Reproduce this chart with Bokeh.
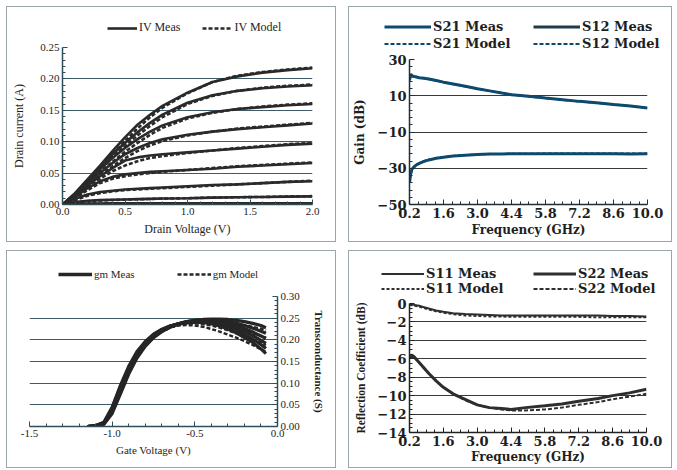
from bokeh.plotting import figure
from bokeh.models import Range1d, FixedTicker, NumeralTickFormatter, Legend, LegendItem, Spacer
from bokeh.layouts import row, column
from bokeh.embed import file_html
from bokeh.resources import INLINE

# ---------------- data: IV curves ----------------
vd = [0, 0.1, 0.2, 0.3, 0.4, 0.5, 0.6, 0.7, 0.8, 1.0, 1.2, 1.4, 1.6, 1.8, 2.0]
iv_meas = [
    [0, 0.018, 0.040, 0.062, 0.085, 0.107, 0.127, 0.143, 0.157, 0.178, 0.195, 0.204, 0.210, 0.214, 0.217],
    [0, 0.017, 0.038, 0.060, 0.080, 0.098, 0.115, 0.130, 0.143, 0.162, 0.174, 0.181, 0.185, 0.188, 0.190],
    [0, 0.016, 0.036, 0.056, 0.074, 0.090, 0.104, 0.116, 0.126, 0.139, 0.147, 0.152, 0.155, 0.158, 0.160],
    [0, 0.015, 0.033, 0.050, 0.066, 0.080, 0.090, 0.098, 0.104, 0.111, 0.116, 0.120, 0.123, 0.126, 0.129],
    [0, 0.014, 0.030, 0.045, 0.058, 0.070, 0.075, 0.078, 0.080, 0.083, 0.086, 0.089, 0.092, 0.095, 0.097],
    [0, 0.012, 0.026, 0.037, 0.044, 0.048, 0.050, 0.052, 0.053, 0.055, 0.057, 0.060, 0.062, 0.064, 0.066],
    [0, 0.009, 0.016, 0.020, 0.022, 0.024, 0.025, 0.026, 0.027, 0.029, 0.031, 0.032, 0.034, 0.036, 0.037],
    [0, 0.004, 0.006, 0.007, 0.0075, 0.008, 0.0085, 0.009, 0.0095, 0.010, 0.011, 0.0115, 0.012, 0.0125, 0.013],
    [0, 0.001, 0.0015, 0.0017, 0.0018, 0.0019, 0.002, 0.002, 0.002, 0.002, 0.002, 0.002, 0.002, 0.002, 0.002],
]
iv_model = [
    [0, 0.016, 0.037, 0.058, 0.080, 0.101, 0.121, 0.139, 0.154, 0.177, 0.195, 0.205, 0.211, 0.215, 0.218],
    [0, 0.015, 0.035, 0.055, 0.075, 0.093, 0.110, 0.125, 0.139, 0.160, 0.173, 0.181, 0.186, 0.189, 0.191],
    [0, 0.014, 0.033, 0.051, 0.068, 0.084, 0.098, 0.111, 0.122, 0.137, 0.146, 0.152, 0.156, 0.159, 0.161],
    [0, 0.013, 0.030, 0.046, 0.061, 0.074, 0.085, 0.094, 0.101, 0.110, 0.116, 0.121, 0.124, 0.127, 0.130],
    [0, 0.012, 0.027, 0.041, 0.053, 0.062, 0.069, 0.074, 0.077, 0.082, 0.086, 0.090, 0.093, 0.096, 0.098],
    [0, 0.010, 0.023, 0.034, 0.041, 0.045, 0.048, 0.050, 0.052, 0.055, 0.058, 0.061, 0.063, 0.065, 0.067],
    [0, 0.007, 0.014, 0.018, 0.021, 0.023, 0.024, 0.025, 0.026, 0.028, 0.030, 0.032, 0.034, 0.036, 0.038],
    [0, 0.003, 0.005, 0.0065, 0.0072, 0.0078, 0.0083, 0.0088, 0.0093, 0.010, 0.011, 0.0115, 0.012, 0.0127, 0.0133],
    [0, 0.001, 0.0014, 0.0016, 0.0018, 0.0019, 0.002, 0.002, 0.002, 0.002, 0.002, 0.002, 0.002, 0.002, 0.002],
]
iv_yticks = [0, 0.05, 0.10, 0.15, 0.20, 0.25]
iv_xticks = [0, 0.5, 1.0, 1.5, 2.0]

# ---------------- data: gain ----------------
f_gain = [0.2, 0.25, 0.3, 0.4, 0.5, 0.6, 0.8, 1.0, 1.3, 1.6, 2.0, 2.5, 3.0, 3.5, 4.0, 4.4, 5.0, 5.8, 6.5, 7.2, 8.0, 8.6, 9.3, 10.0]
s21_meas = [18.5, 22.0, 21.0, 20.6, 20.3, 19.9, 19.6, 19.2, 18.4, 17.5, 16.5, 15.2, 13.9, 12.7, 11.5, 10.6, 9.8, 8.7, 7.8, 6.9, 6.0, 5.2, 4.3, 3.3]
s21_model = [20.8, 20.7, 20.6, 20.4, 20.2, 20.0, 19.6, 19.1, 18.3, 17.4, 16.4, 15.1, 13.8, 12.6, 11.5, 10.7, 9.7, 8.6, 7.7, 6.8, 5.9, 5.2, 4.3, 3.4]
s12_meas = [-38.0, -33.0, -30.5, -29.0, -28.0, -27.3, -26.2, -25.4, -24.5, -23.9, -23.3, -22.8, -22.4, -22.2, -22.1, -22.0, -22.0, -22.0, -22.0, -22.0, -22.0, -22.0, -22.1, -22.0]
s12_model = [-36.5, -33.5, -31.2, -29.3, -28.1, -27.2, -26.0, -25.2, -24.4, -23.8, -23.2, -22.7, -22.4, -22.2, -22.1, -22.0, -22.0, -21.9, -21.9, -21.9, -21.9, -21.9, -21.9, -21.9]
gain_ticks = [-50, -30, -10, 10, 30]

# ---------------- data: transconductance ----------------
vg = [-1.15, -1.10, -1.05, -1.00, -0.95, -0.90, -0.85, -0.80, -0.75, -0.70, -0.65, -0.60,
      -0.55, -0.50, -0.45, -0.40, -0.35, -0.30, -0.25, -0.20, -0.15, -0.10, -0.07]
gm_meas = [
    [0, 0.001, 0.005, 0.030, 0.075, 0.121, 0.158, 0.185, 0.205, 0.219, 0.229, 0.236, 0.241, 0.245, 0.247, 0.248, 0.248, 0.247, 0.245, 0.242, 0.238, 0.233, 0.228],
    [0, 0.001, 0.006, 0.033, 0.079, 0.125, 0.161, 0.187, 0.207, 0.220, 0.230, 0.237, 0.242, 0.245, 0.246, 0.246, 0.245, 0.242, 0.238, 0.233, 0.227, 0.220, 0.215],
    [0, 0.001, 0.007, 0.036, 0.083, 0.129, 0.164, 0.190, 0.209, 0.222, 0.231, 0.237, 0.242, 0.244, 0.245, 0.245, 0.242, 0.238, 0.233, 0.226, 0.218, 0.209, 0.203],
    [0, 0.002, 0.008, 0.039, 0.087, 0.132, 0.167, 0.192, 0.210, 0.223, 0.231, 0.237, 0.241, 0.243, 0.243, 0.242, 0.238, 0.233, 0.227, 0.219, 0.210, 0.199, 0.192],
    [0, 0.002, 0.009, 0.042, 0.091, 0.136, 0.170, 0.194, 0.212, 0.224, 0.232, 0.237, 0.240, 0.242, 0.242, 0.240, 0.235, 0.229, 0.221, 0.212, 0.202, 0.189, 0.180],
    [0, 0.002, 0.010, 0.045, 0.095, 0.139, 0.173, 0.196, 0.213, 0.224, 0.232, 0.236, 0.239, 0.240, 0.240, 0.237, 0.232, 0.225, 0.216, 0.205, 0.194, 0.179, 0.168],
]
gm_model = [
    [0, 0.001, 0.006, 0.032, 0.078, 0.123, 0.160, 0.186, 0.205, 0.218, 0.228, 0.235, 0.240, 0.243, 0.244, 0.244, 0.243, 0.241, 0.238, 0.234, 0.230, 0.226, 0.222],
    [0, 0.001, 0.007, 0.036, 0.082, 0.127, 0.163, 0.188, 0.207, 0.220, 0.229, 0.235, 0.239, 0.241, 0.241, 0.239, 0.236, 0.232, 0.227, 0.221, 0.215, 0.209, 0.205],
    [0, 0.002, 0.008, 0.040, 0.087, 0.131, 0.166, 0.191, 0.209, 0.221, 0.229, 0.234, 0.237, 0.238, 0.236, 0.233, 0.228, 0.222, 0.215, 0.208, 0.200, 0.193, 0.188],
    [0, 0.002, 0.009, 0.044, 0.092, 0.136, 0.170, 0.194, 0.211, 0.222, 0.229, 0.233, 0.234, 0.233, 0.230, 0.225, 0.219, 0.212, 0.205, 0.197, 0.188, 0.178, 0.172],
]
gm_yticks = [0, 0.05, 0.10, 0.15, 0.20, 0.25, 0.30]
gm_xticks = [-1.5, -1.0, -0.5, 0.0]

# ---------------- data: reflection ----------------
f_refl = [0.2, 0.3, 0.4, 0.6, 0.8, 1.0, 1.3, 1.6, 2.0, 2.5, 3.0, 3.5, 4.0, 4.4, 5.0, 5.8, 6.5, 7.2, 8.0, 8.6, 9.3, 10.0]
s11_meas = [-0.1, -0.1, -0.15, -0.25, -0.4, -0.55, -0.75, -0.9, -1.05, -1.15, -1.2, -1.25, -1.3, -1.3, -1.3, -1.3, -1.3, -1.3, -1.3, -1.35, -1.35, -1.4]
s11_model = [-0.15, -0.2, -0.25, -0.35, -0.5, -0.65, -0.85, -1.0, -1.15, -1.3, -1.35, -1.4, -1.4, -1.45, -1.45, -1.45, -1.45, -1.45, -1.5, -1.5, -1.5, -1.5]
s22_meas = [-5.7, -5.6, -5.8, -6.4, -7.0, -7.6, -8.4, -9.1, -9.8, -10.4, -11.0, -11.3, -11.4, -11.5, -11.3, -11.1, -10.9, -10.6, -10.3, -10.0, -9.7, -9.3]
s22_model = [-5.8, -5.8, -5.9, -6.4, -7.0, -7.6, -8.4, -9.1, -9.8, -10.5, -11.0, -11.3, -11.5, -11.6, -11.6, -11.5, -11.3, -11.0, -10.7, -10.4, -10.1, -9.8]
refl_ticks = [0, -2, -4, -6, -8, -10, -12, -14]

freq_ticks = [0.2, 1.6, 3.0, 4.4, 5.8, 7.2, 8.6, 10.0]


def minor_between(ticks, n):
    out = []
    for a, b in zip(ticks[:-1], ticks[1:]):
        for k in range(1, n):
            out.append(a + (b - a) * k / n)
    return out


SERIF_L = "Liberation Serif"
SERIF_R = "DejaVu Serif"
TXT = "#1e1e1e"
BORDER = {"border": "1px solid #9aa6aa"}


def base_fig(w, h, xr, yr, l, r, t, b, **kw):
    p = figure(width=w, height=h, x_range=Range1d(*xr), y_range=Range1d(*yr),
               output_backend="svg", toolbar_location=None,
               min_border_left=l, min_border_right=r, min_border_top=t, min_border_bottom=b, **kw)
    p.outline_line_color = None
    p.xgrid.visible = False
    p.background_fill_color = "white"
    p.border_fill_color = "white"
    return p


def legend_fig(w, h):
    # a strip holding only the legend; its ranges keep the key series out of view
    lf = figure(width=w, height=h, x_range=Range1d(-1000, -999), y_range=Range1d(-1000, -999),
                output_backend="svg", toolbar_location=None, min_border=0,
                x_axis_type=None, y_axis_type=None)
    lf.frame_align = False
    lf.outline_line_color = None
    lf.grid.visible = False
    lf.background_fill_color = "white"
    lf.border_fill_color = "white"
    return lf


def style_axes(p, font, tick_size, label_size, bold_ticks, bold_label, axcolor, lab_off):
    for ax in p.axis:
        ax.major_label_text_font = font
        ax.major_label_text_font_size = tick_size
        ax.major_label_text_font_style = "bold" if bold_ticks else "normal"
        ax.major_label_text_color = TXT
        ax.axis_label_text_font = font
        ax.axis_label_text_font_size = label_size
        ax.axis_label_text_font_style = "bold" if bold_label else "normal"
        ax.axis_label_text_color = TXT
        ax.axis_line_color = axcolor
        ax.axis_line_width = 1.5
        ax.major_tick_line_color = axcolor
        ax.minor_tick_line_color = axcolor
        ax.major_tick_in = 5
        ax.major_tick_out = 0
        ax.minor_tick_in = 3
        ax.minor_tick_out = 0
        ax.major_label_standoff = 3
        ax.axis_label_standoff = lab_off


def make_legend(items, loc, font, size, bold, gw, orient, spacing, lh, nrows="auto", label_width=20):
    lg = Legend(items=items, location=loc, orientation=orient, nrows=nrows)
    lg.label_text_font = font
    lg.label_text_font_size = size
    lg.label_text_font_style = "bold" if bold else "normal"
    lg.label_text_color = TXT
    lg.glyph_width = gw
    lg.glyph_height = lh
    lg.label_height = lh
    lg.label_width = label_width
    lg.label_standoff = 2
    lg.spacing = spacing
    lg.padding = 0
    lg.margin = 0
    lg.background_fill_alpha = 0
    lg.border_line_alpha = 0
    return lg


# ---------------- panel 1: IV ----------------
DARK = "#2a2a2a"
l1 = legend_fig(328, 33)
k1 = l1.line(vd, iv_meas[0], line_width=2.6, color=DARK)
k2 = l1.line(vd, iv_model[0], line_width=2.6, color=DARK, line_dash="4 2")
l1.add_layout(make_legend([LegendItem(label="IV Meas", renderers=[k1]),
                           LegendItem(label="IV Model", renderers=[k2])],
                          (100, 5), SERIF_L, "12px", False, 30, "horizontal", 22, 14))

p1 = base_fig(328, 201, (0, 2.0), (0, 0.25), 55, 23, 7, 37)
p1.xaxis.ticker = FixedTicker(ticks=iv_xticks, minor_ticks=minor_between(iv_xticks, 5))
p1.yaxis.ticker = FixedTicker(ticks=iv_yticks, minor_ticks=minor_between(iv_yticks, 5))
p1.xaxis.formatter = NumeralTickFormatter(format="0.0")
p1.yaxis.formatter = NumeralTickFormatter(format="0.00")
p1.xaxis.axis_label = "Drain Voltage (V)"
p1.yaxis.axis_label = "Drain current (A)"
p1.ygrid.grid_line_color = "#3d5c66"
p1.ygrid.grid_line_width = 1
style_axes(p1, SERIF_L, "11px", "12px", False, False, "#2f4f58", 4)
p1.yaxis.axis_label_standoff = 11
for m, d in zip(iv_meas, iv_model):
    p1.line(vd, m, line_width=2.6, color=DARK)
    p1.line(vd, d, line_width=2.6, color=DARK, line_dash="4 2")

# ---------------- panel 2: Gain ----------------
BLUE = "#0e4a6e"
l2 = legend_fig(322, 45)
k21m = l2.line(f_gain, s21_meas, line_width=3, color=BLUE)
k21d = l2.line(f_gain, s21_model, line_width=2, color=BLUE, line_dash="4 2")
k12m = l2.line(f_gain, s12_meas, line_width=3, color="#233a48")
k12d = l2.line(f_gain, s12_model, line_width=2, color=BLUE, line_dash="4 2")
l2.add_layout(make_legend([LegendItem(label="S21 Meas", renderers=[k21m]),
                           LegendItem(label="S21 Model", renderers=[k21d]),
                           LegendItem(label="S12 Meas", renderers=[k12m]),
                           LegendItem(label="S12 Model", renderers=[k12d])],
                          (35, 0), SERIF_R, "13px", True, 47, "vertical", 0, 17,
                          nrows=2, label_width=100))

p2 = base_fig(322, 189, (0.2, 10.0), (-50, 30), 60, 24, 7, 37)
p2.xaxis.ticker = FixedTicker(ticks=freq_ticks, minor_ticks=minor_between(freq_ticks, 4))
p2.yaxis.ticker = FixedTicker(ticks=gain_ticks, minor_ticks=minor_between(gain_ticks, 5))
p2.xaxis.formatter = NumeralTickFormatter(format="0.0")
p2.xaxis.axis_label = "Frequency (GHz)"
p2.yaxis.axis_label = "Gain (dB)"
p2.ygrid.grid_line_color = "#3a3a3a"
p2.ygrid.grid_line_width = 1
style_axes(p2, SERIF_R, "13px", "12px", True, True, "#1e2e3a", 2)
p2.yaxis.axis_label_standoff = 8
p2.line(f_gain, s21_meas, line_width=3, color=BLUE)
p2.line(f_gain, s21_model, line_width=2, color=BLUE, line_dash="4 2")
p2.line(f_gain, s12_meas, line_width=3, color=BLUE)
p2.line(f_gain, s12_model, line_width=2, color=BLUE, line_dash="4 2")

# ---------------- panel 3: gm ----------------
GMC = "#262626"
l3 = legend_fig(328, 38)
k3m = l3.line(vg, gm_meas[0], line_width=3.6, color=GMC)
k3d = l3.line(vg, gm_model[0], line_width=2.4, color=GMC, line_dash="4 2")
l3.add_layout(make_legend([LegendItem(label="gm Meas", renderers=[k3m]),
                           LegendItem(label="gm Model", renderers=[k3d])],
                          (51, 8), SERIF_L, "11px", False, 34, "horizontal", 42, 14))

p3 = base_fig(328, 178, (-1.5, 0.0), (0, 0.30), 22, 58, 7, 41, y_axis_location="right")
p3.xaxis.ticker = FixedTicker(ticks=gm_xticks, minor_ticks=minor_between(gm_xticks, 5))
p3.yaxis.ticker = FixedTicker(ticks=gm_yticks, minor_ticks=minor_between(gm_yticks, 5))
p3.xaxis.formatter = NumeralTickFormatter(format="0.0")
p3.yaxis.formatter = NumeralTickFormatter(format="0.00")
p3.xaxis.axis_label = "Gate Voltage (V)"
p3.yaxis.axis_label = "Transconductance (S)"
p3.ygrid.grid_line_color = "#3d5c66"
p3.ygrid.grid_line_width = 1
style_axes(p3, SERIF_L, "11px", "11px", False, False, "#2f4f58", 4)
p3.yaxis.axis_label_text_font_style = "bold"
p3.yaxis.axis_label_standoff = 10
p3.yaxis.axis_label_orientation = "vertical"
for g in gm_meas:
    p3.line(vg, g, line_width=3.2, color=GMC)
for g in gm_model:
    p3.line(vg, g, line_width=2.4, color=GMC, line_dash="4 2")

# ---------------- panel 4: Reflection ----------------
GREY = "#2e2e2e"
l4 = legend_fig(322, 45)
k11m = l4.line(f_refl, s11_meas, line_width=2, color=GREY)
k11d = l4.line(f_refl, s11_model, line_width=2, color=GREY, line_dash="3 2")
k22m = l4.line(f_refl, s22_meas, line_width=3, color=GREY)
k22d = l4.line(f_refl, s22_model, line_width=2, color=GREY, line_dash="4 2")
l4.add_layout(make_legend([LegendItem(label="S11 Meas", renderers=[k11m]),
                           LegendItem(label="S11 Model", renderers=[k11d]),
                           LegendItem(label="S22 Meas", renderers=[k22m]),
                           LegendItem(label="S22 Model", renderers=[k22d])],
                          (32, 0), SERIF_R, "13px", True, 43, "vertical", 0, 15,
                          nrows=2, label_width=107))

p4 = base_fig(322, 171, (0.2, 10.0), (-14, 0), 60, 25, 7, 35)
p4.xaxis.ticker = FixedTicker(ticks=freq_ticks, minor_ticks=minor_between(freq_ticks, 4))
p4.yaxis.ticker = FixedTicker(ticks=refl_ticks, minor_ticks=minor_between(refl_ticks, 4))
p4.xaxis.formatter = NumeralTickFormatter(format="0.0")
p4.xaxis.axis_label = "Frequency (GHz)"
p4.yaxis.axis_label = "Reflection Coefficient (dB)"
p4.ygrid.grid_line_color = "#3a3a3a"
p4.ygrid.grid_line_width = 1
style_axes(p4, SERIF_R, "13px", "12px", True, True, "#222222", 1)
p4.yaxis.axis_label_text_font = SERIF_L
p4.yaxis.axis_label_text_font_size = "11.5px"
p4.yaxis.axis_label_standoff = 8
p4.line(f_refl, s11_meas, line_width=2, color=GREY)
p4.line(f_refl, s11_model, line_width=2, color=GREY, line_dash="3 2")
p4.line(f_refl, s22_meas, line_width=3, color=GREY)
p4.line(f_refl, s22_model, line_width=2, color=GREY, line_dash="4 2")

c1 = column(l1, p1, styles=BORDER)
c2 = column(l2, p2, styles=BORDER)
c3 = column(l3, p3, styles=BORDER)
c4 = column(l4, p4, styles=BORDER)
top = row(Spacer(width=6, height=10), c1, Spacer(width=12, height=10), c2)
bottom = row(Spacer(width=6, height=10), c3, Spacer(width=12, height=10), c4)
layout = column(Spacer(width=10, height=6), top, Spacer(width=10, height=8), bottom)
open("out.html", "w").write(file_html(layout, INLINE))
